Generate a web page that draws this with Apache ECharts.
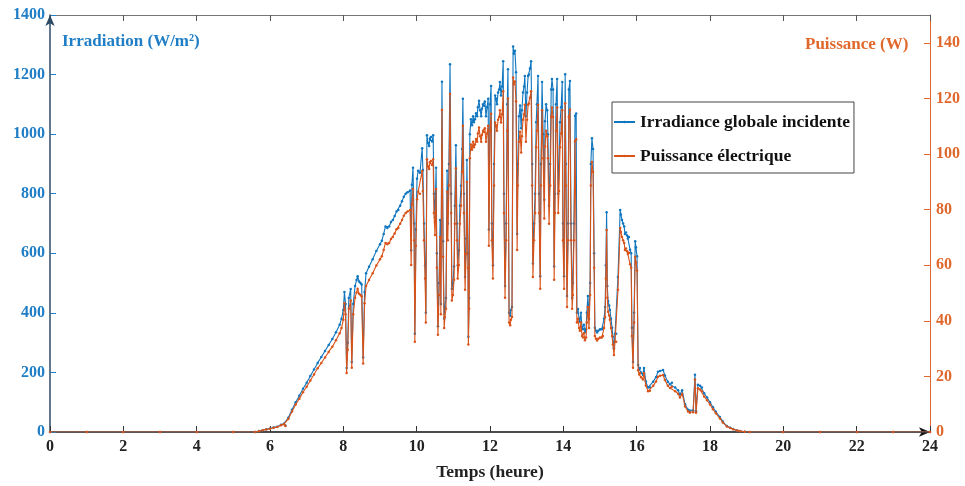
<!DOCTYPE html>
<html>
<head>
<meta charset="utf-8">
<script src="https://cdn.jsdelivr.net/npm/echarts@6/dist/echarts.min.js"></script>
<style>
html,body{margin:0;padding:0;background:#fff;}
#chart{width:965px;height:486px;}
</style>
</head>
<body>
<div id="chart"></div>
<script>
// Time (hours)
var hours = [
0,1,2,3,4,5,5.6,5.7,5.8,5.9,
6.0,6.1,6.2,6.3,6.38,6.42,6.5,6.6,6.7,6.8,
6.9,7.0,7.1,7.2,7.3,7.4,7.5,7.6,7.7,7.8,
7.9,7.95,8.0,8.03,8.06,8.09,8.12,8.15,8.2,8.23,
8.27,8.32,8.36,8.39,8.43,8.47,8.5,8.54,8.58,8.62,
8.7,8.8,8.9,9.0,9.05,9.1,9.15,9.2,9.25,9.3,
9.35,9.4,9.45,9.5,9.55,9.6,9.65,9.7,9.75,9.82,
9.85,9.87,9.9,9.93,9.95,9.98,10.01,10.04,10.09,10.15,
10.17,10.2,10.23,10.25,10.28,10.31,10.34,10.36,10.39,10.42,
10.45,10.47,10.5,10.53,10.55,10.58,10.61,10.64,10.66,10.69,
10.72,10.75,10.77,10.8,10.83,10.85,10.88,10.91,10.94,10.96,
10.99,11.02,11.04,11.07,11.1,11.12,11.15,11.18,11.21,11.24,
11.26,11.29,11.32,11.35,11.37,11.4,11.41,11.43,11.45,11.48,
11.51,11.54,11.56,11.59,11.62,11.65,11.67,11.7,11.73,11.76,
11.78,11.81,11.84,11.86,11.89,11.92,11.95,11.97,12.0,12.03,
12.05,12.08,12.11,12.14,12.16,12.19,12.22,12.25,12.27,12.3,
12.33,12.36,12.38,12.41,12.44,12.47,12.49,12.52,12.55,12.57,
12.6,12.63,12.65,12.68,12.71,12.74,12.76,12.79,12.82,12.85,
12.87,12.9,12.93,12.95,12.98,13.01,13.04,13.06,13.09,13.12,
13.15,13.17,13.2,13.23,13.26,13.28,13.31,13.34,13.37,13.39,
13.42,13.45,13.48,13.5,13.53,13.56,13.58,13.61,13.64,13.67,
13.69,13.72,13.75,13.77,13.8,13.83,13.86,13.88,13.91,13.94,
13.97,13.99,14.02,14.05,14.07,14.1,14.13,14.15,14.18,14.21,
14.24,14.26,14.29,14.32,14.35,14.37,14.4,14.43,14.45,14.48,
14.51,14.54,14.56,14.59,14.62,14.64,14.67,14.7,14.73,14.75,
14.78,14.81,14.84,14.86,14.89,14.92,14.95,15.0,15.05,15.08,
15.11,15.14,15.16,15.18,15.2,15.22,15.25,15.27,15.3,15.33,
15.35,15.38,15.41,15.44,15.49,15.55,15.57,15.6,15.63,15.66,
15.68,15.71,15.74,15.76,15.79,15.82,15.85,15.87,15.9,15.93,
15.96,15.98,16.01,16.04,16.07,16.09,16.12,16.17,16.2,16.25,
16.31,16.36,16.45,16.53,16.58,16.64,16.72,16.77,16.85,16.91,
16.96,17.05,17.13,17.18,17.24,17.32,17.4,17.45,17.54,17.59,
17.62,17.67,17.73,17.78,17.84,17.92,18.0,18.08,18.16,18.27,
18.35,18.46,18.55,18.63,18.74,18.82,18.95,19.09,20,21,
22,23,24
];

// Irradiance globale incidente (W/m²)
var irradiance = [
0,0,0,0,0,0,0,3,6,9,
12,15,18,24,28,22,48,75,100,122,
145,165,188,210,232,252,272,292,312,335,
360,380,410,470,430,215,300,450,480,235,
430,490,510,523,505,500,495,250,470,533,
555,580,608,630,642,665,690,685,690,705,
712,725,740,745,760,775,790,800,805,811,
610,830,887,700,330,680,850,877,870,953,
880,700,560,400,996,970,960,985,990,975,
996,800,720,887,600,355,500,712,430,1176,
640,380,420,450,877,700,900,1235,800,480,
500,556,760,963,700,560,610,760,827,950,
1119,800,520,650,913,600,320,450,1000,1050,
1030,1060,1040,1050,1070,1060,1090,1112,1080,1060,
1085,1100,1095,1110,1060,1090,1119,680,1100,1162,
700,560,900,1130,1120,1100,1140,1150,1175,1130,
1160,1245,800,490,700,1100,1218,400,390,410,
420,1294,1270,1280,1208,665,900,1060,1096,1020,
1080,1140,1160,1195,1060,1140,1195,1200,1220,1245,
900,566,700,800,1040,1100,1195,800,523,900,
1175,1000,780,1043,1100,1080,1000,760,900,1150,
1185,1150,556,800,1100,1185,800,880,1040,1090,
1175,700,523,1201,900,457,700,1150,1178,700,
450,500,700,1062,1069,400,413,380,370,400,
350,345,360,335,345,400,457,380,500,900,
986,950,600,350,340,334,340,345,345,350,
380,420,560,738,490,440,425,410,380,350,
320,281,330,330,520,745,730,712,700,690,
665,670,660,650,655,612,600,350,235,400,
640,620,590,225,210,215,200,192,215,170,
149,150,169,185,202,205,208,190,169,160,
165,149,140,126,140,93,75,70,72,192,
70,159,155,149,130,116,100,83,68,50,
35,20,14,10,5,3,1,0,0,0,
0,0,0
];

// Puissance électrique (W)
var puissance = [
0,0,0,0,0,0,0,0.3,0.6,0.9,
1.2,1.5,1.8,2.4,2.8,2.2,4.7,7.4,9.9,12.0,
14.3,16.3,18.5,20.7,22.9,24.8,26.8,28.8,30.7,33.0,
35.5,37.4,40.4,46.3,42.4,21.2,29.6,44.3,47.3,23.1,
42.4,48.3,50.2,51.5,49.7,49.3,48.8,24.6,46.3,52.5,
54.7,57.1,59.9,62.1,63.2,65.5,68.0,67.5,68.0,69.4,
70.1,71.4,72.9,73.4,74.9,76.3,77.8,78.8,79.3,79.9,
60.1,81.8,87.4,69.0,32.5,67.0,83.7,86.4,85.7,93.9,
86.7,69.0,55.2,39.4,98.1,95.5,94.6,97.0,97.5,96.0,
98.1,78.8,70.9,87.4,59.1,35.0,49.3,70.1,42.4,115.8,
63.0,37.4,41.4,44.3,86.4,69.0,88.7,121.6,78.8,47.3,
49.3,54.8,74.9,94.9,69.0,55.2,60.1,74.9,81.5,93.6,
110.2,78.8,51.2,64.0,89.9,59.1,31.5,44.3,98.5,103.4,
101.5,104.4,102.4,103.4,105.4,104.4,107.4,109.5,106.4,104.4,
106.9,108.4,107.9,109.3,104.4,107.4,110.2,67.0,108.4,114.5,
69.0,55.2,88.7,111.3,110.3,108.4,112.3,113.3,115.7,111.3,
114.3,122.6,78.8,48.3,69.0,108.4,120.0,39.4,38.4,40.4,
41.4,127.5,125.1,126.1,119.0,65.5,88.7,104.4,108.0,100.5,
106.4,112.3,114.3,117.7,104.4,112.3,117.7,118.2,120.2,122.6,
88.7,55.8,69.0,78.8,102.4,108.4,117.7,78.8,51.5,88.7,
115.7,98.5,76.8,102.7,108.4,106.4,98.5,74.9,88.7,113.3,
116.7,113.3,54.8,78.8,108.4,116.7,78.8,86.7,102.4,107.4,
115.7,69.0,51.5,118.3,88.7,45.0,69.0,113.3,116.0,69.0,
44.3,49.3,69.0,104.6,105.3,39.4,40.7,37.4,36.4,39.4,
34.5,34.0,35.5,33.0,34.0,39.4,45.0,37.4,49.3,88.7,
97.1,93.6,59.1,34.5,33.5,32.9,33.5,34.0,34.0,34.5,
37.4,41.4,55.2,72.7,48.3,43.3,41.9,40.4,37.4,34.5,
31.5,27.7,32.5,32.5,51.2,73.4,71.9,70.1,69.0,68.0,
65.5,66.0,65.0,64.0,64.5,60.3,59.1,34.5,23.1,39.4,
63.0,61.1,58.1,22.2,20.7,21.2,19.7,18.9,21.2,16.7,
14.7,14.8,16.6,18.2,19.9,20.2,20.5,18.7,16.6,15.8,
16.3,14.7,13.8,12.4,13.8,9.2,7.4,6.9,7.1,18.9,
6.9,15.7,15.3,14.7,12.8,11.4,9.9,8.2,6.7,4.9,
3.4,2.0,1.4,1.0,0.5,0.3,0.1,0,0,0,
0,0,0
];

var xTicks = [0, 24, 2];        // min, max, interval (hours)
var leftTicks = [0, 1400, 200];  // W/m²
var rightTicks = [0, 150, 20];   // W

var seriesNames = ['Irradiance globale incidente', 'Puissance électrique'];
var axisTitles = ['Irradiation (W/m²)', 'Puissance (W)', 'Temps (heure)'];

var BLUE = '#0F76BF', BLUE_TXT = '#1F7EC6';
var ORANGE = '#D95319', ORANGE_TXT = '#E0682C';
var FONT = '"Liberation Serif", "Times New Roman", serif';

function pairs(xs, ys) { return xs.map(function (x, i) { return [x, ys[i]]; }); }
function plain(v) { return String(v); }

var chart = echarts.init(document.getElementById('chart'), null, { renderer: 'canvas' });
chart.setOption({
  animation: false,
  backgroundColor: '#fff',
  grid: { left: 50, right: 35, top: 15, bottom: 48, containLabel: false },
  legend: {
    orient: 'vertical',
    left: 612, top: 102,
    padding: [11, 4, 8, 1],
    itemGap: 16,
    itemWidth: 21, itemHeight: 3,
    borderColor: '#444', borderWidth: 1,
    backgroundColor: '#fff',
    textStyle: { fontFamily: FONT, fontWeight: 'bold', fontSize: 17.5, color: '#111' },
    data: seriesNames
  },
  xAxis: [{
    type: 'value', position: 'bottom',
    min: xTicks[0], max: xTicks[1], interval: xTicks[2],
    name: axisTitles[2], nameLocation: 'middle', nameGap: 31,
    nameTextStyle: { fontFamily: FONT, fontWeight: 'bold', fontSize: 17.5, color: '#222' },
    axisLine: { show: true, onZero: false, symbol: ['none', 'arrow'], symbolSize: [7, 11], lineStyle: { color: '#111', width: 1.5 } },
    axisTick: { show: true, inside: true, length: 6, lineStyle: { color: '#333' } },
    axisLabel: { fontFamily: FONT, fontWeight: 'bold', fontSize: 16, color: '#222', margin: 7, formatter: plain },
    splitLine: { show: false }
  }, {
    type: 'value', position: 'top',
    min: xTicks[0], max: xTicks[1], interval: xTicks[2],
    axisLine: { show: true, onZero: false, lineStyle: { color: '#777', width: 1 } },
    axisTick: { show: true, inside: true, length: 6, lineStyle: { color: '#555' } },
    axisLabel: { show: false },
    splitLine: { show: false }
  }],
  yAxis: [{
    type: 'value', position: 'left',
    min: leftTicks[0], max: leftTicks[1], interval: leftTicks[2],
    axisLine: { show: true, onZero: false, symbol: ['none', 'arrow'], symbolSize: [7, 11], lineStyle: { color: '#2E4A64', width: 1.5 } },
    axisTick: { show: true, inside: true, length: 6, lineStyle: { color: BLUE_TXT } },
    axisLabel: { fontFamily: FONT, fontWeight: 'bold', fontSize: 16, color: BLUE_TXT, margin: 5, formatter: plain },
    splitLine: { show: false }
  }, {
    type: 'value', position: 'right',
    min: rightTicks[0], max: rightTicks[1], interval: rightTicks[2],
    axisLine: { show: true, onZero: false, lineStyle: { color: ORANGE_TXT, width: 1 } },
    axisTick: { show: true, inside: true, length: 6, lineStyle: { color: ORANGE_TXT } },
    axisLabel: { fontFamily: FONT, fontWeight: 'bold', fontSize: 16, color: ORANGE_TXT, margin: 6, showMaxLabel: false, formatter: plain },
    splitLine: { show: false }
  }],
  graphic: [{
    type: 'text', left: 62, top: 33,
    style: { text: axisTitles[0], fontFamily: FONT, fontWeight: 'bold', fontSize: 17, fill: BLUE_TXT }
  }, {
    type: 'text', left: 805, top: 36,
    style: { text: axisTitles[1], fontFamily: FONT, fontWeight: 'bold', fontSize: 17, fill: ORANGE_TXT }
  }],
  series: [{
    name: seriesNames[0], type: 'line', xAxisIndex: 0, yAxisIndex: 0,
    data: pairs(hours, irradiance),
    color: BLUE,
    symbol: 'circle', symbolSize: 2.5, showSymbol: true, showAllSymbol: true,
    lineStyle: { width: 1.1, color: BLUE },
    itemStyle: { color: BLUE },
    z: 2
  }, {
    name: seriesNames[1], type: 'line', xAxisIndex: 0, yAxisIndex: 1,
    data: pairs(hours, puissance),
    color: ORANGE,
    symbol: 'circle', symbolSize: 2.5, showSymbol: true, showAllSymbol: true,
    lineStyle: { width: 1.1, color: ORANGE },
    itemStyle: { color: ORANGE },
    z: 3
  }]
});
</script>
</body>
</html>
